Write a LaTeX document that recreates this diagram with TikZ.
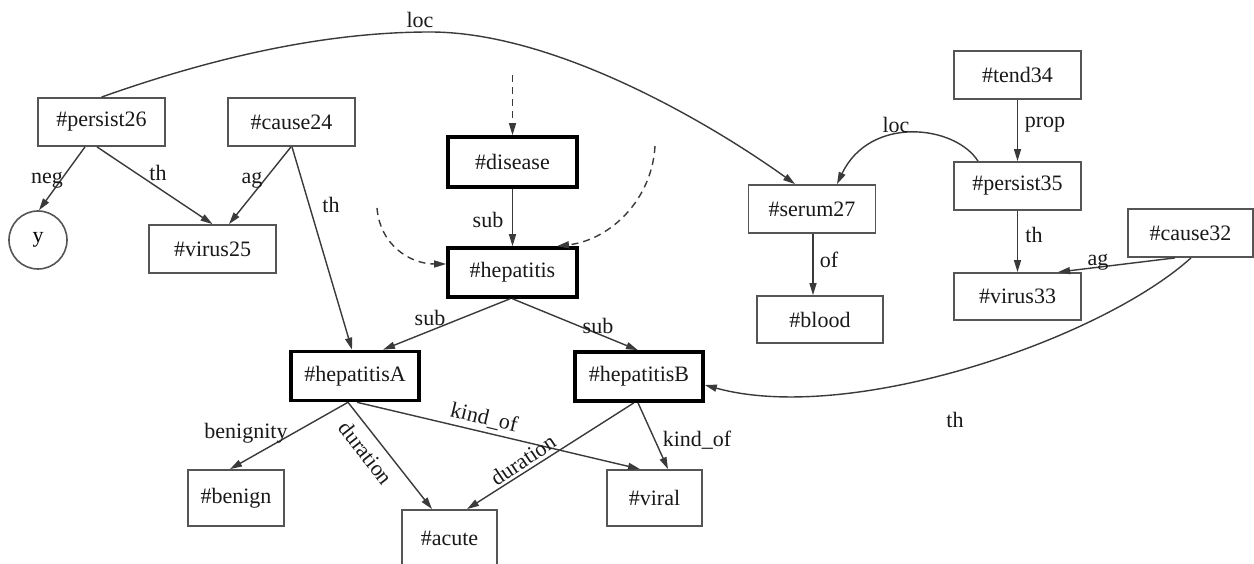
\documentclass[tikz,border=0pt]{standalone}
\usepackage{fontspec}
\setmainfont{Liberation Serif}
\usetikzlibrary{arrows.meta}
\definecolor{edgecol}{HTML}{3A3A3A}
\definecolor{boxcol}{HTML}{555555}
\begin{document}
\begin{tikzpicture}[x=1pt,y=-1pt,
  font=\fontsize{22}{26}\selectfont,
  box/.style={draw=boxcol,line width=1.8pt,rectangle,inner sep=0pt,minimum width=127pt,minimum height=48pt,text=black!90},
  thickbox/.style={box,draw=black,line width=3.6pt},
  smallbox/.style={box,minimum width=96pt,minimum height=56pt},
  circ/.style={draw=boxcol,line width=1.6pt,circle,inner sep=0pt,minimum size=58pt},
  lbl/.style={inner sep=0pt,text=black!90},
  edge/.style={draw=edgecol,line width=1.4pt,-{Triangle[length=12pt,width=7pt]}},
  dashedge/.style={edge,dash pattern=on 7pt off 5pt}]
\useasboundingbox[fill=white] (0,0) rectangle (1254,564);

% nodes
\node[box] (p26) at (101.5,122) {\#persist26};
\node[box] (c24) at (291.5,122) {\#cause24};
\node[circ] (yc) at (38,240) {y};
\node[box] (v25) at (212.5,249) {\#virus25};
\node[thickbox,minimum width=129pt,minimum height=50pt] (dis) at (512.5,162) {\#disease};
\node[thickbox,minimum width=129pt,minimum height=49pt] (hep) at (512.5,272.5) {\#hepatitis};
\node[thickbox,minimum width=128pt,minimum height=49pt] (hA) at (355,376) {\#hepatitisA};
\node[thickbox,minimum width=128pt,minimum height=49pt] (hB) at (639,376.5) {\#hepatitisB};
\node[smallbox] (ben) at (236,498) {\#benign};
\node[smallbox,minimum width=95pt] (acu) at (449.5,538) {\#acute};
\node[smallbox,minimum width=95pt] (vir) at (654.5,498) {\#viral};
\node[box] (s27) at (812,209) {\#serum27};
\node[box,minimum width=126pt,minimum height=47pt] (bl) at (820,319.5) {\#blood};
\node[box] (t34) at (1017.5,75) {\#tend34};
\node[box] (p35) at (1017.5,186) {\#persist35};
\node[box,minimum height=47pt] (v33) at (1017.5,296.5) {\#virus33};
\node[box,minimum width=125pt] (c32) at (1190.5,233) {\#cause32};

% free ends of dashed connectors
\coordinate (dtop) at (512.5,75);
\coordinate (dleft) at (377,208);
\coordinate (dright) at (655,146);
\coordinate (locpeak) at (430,32);

% connectors
\draw[edge] ([xshift=-16.5pt]p26.south) -- ([xshift=1pt]yc.north);
\draw[edge] ([xshift=-4.5pt]p26.south) -- (v25.north);
\draw[edge] ([xshift=-0.5pt]c24.south) -- ([xshift=16.5pt]v25.north);
\draw[edge] ([xshift=0.5pt]c24.south) -- ([xshift=-3pt]hA.north);
\draw[dashedge] (dtop) -- (dis.north);
\draw[edge] (dis.south) -- (hep.north);
\draw[dashedge] (dleft) .. controls (380,245) and (410,264) .. ([yshift=8.5pt]hep.west);
\draw[dashedge] (dright) .. controls (652,200) and (610,240) .. ([xshift=44.5pt]hep.north);
\draw[edge] ([xshift=-2.5pt]hep.south) -- ([xshift=28pt]hA.north);
\draw[edge] (hep.south) -- ([xshift=-1pt]hB.north);
\draw[edge] ([xshift=-7pt]hA.south) -- ([xshift=-6pt]ben.north);
\draw[edge] ([xshift=-7pt]hA.south) -- ([xshift=-17.5pt]acu.north);
\draw[edge] ([xshift=2pt]hA.south) -- ([xshift=-14.5pt]vir.north);
\draw[edge] ([xshift=-5pt]hB.south) -- ([xshift=17.5pt]acu.north);
\draw[edge] ([xshift=-1pt]hB.south) -- ([xshift=13.5pt]vir.north);
\draw[edge] ([xshift=0.5pt]c32.south) .. controls (1100,340) and (850,425) .. ([yshift=-8.5pt]hB.east);
\draw[edge] ([xshift=1pt]s27.south) -- ([xshift=-7pt]bl.north);
\draw[edge] ([xshift=-39.5pt]p35.north) .. controls (955,125) and (870,115) .. ([xshift=25pt]s27.north);
\draw[edge] (t34.south) -- (p35.north);
\draw[edge] (p35.south) -- (v33.north);
\draw[edge] ([xshift=-15.5pt]c32.south) -- ([xshift=40.5pt]v33.north);
\draw[edge] (p26.north) .. controls (220,55) and (330,32) .. (locpeak) .. controls (560,32) and (720,130) .. ([xshift=-17pt]s27.north);

% labels
\node[lbl] (lneg) at (47,180) {neg};
\node[lbl] (lth1) at (158,173) {th};
\node[lbl] (lag1) at (252,180) {ag};
\node[lbl] (lth2) at (331,205) {th};
\node[lbl] (lsub1) at (488,220) {sub};
\node[lbl] (lsub2) at (430,318) {sub};
\node[lbl] (lsub3) at (598,326) {sub};
\node[lbl] (lben) at (246,433) {benignity};
\node[lbl,rotate=-52] (ldur1) at (366,453) {duration};
\node[lbl,rotate=-13.5] (lkind1) at (484,418) {kind\_of};
\node[lbl,rotate=34] (ldur2) at (523,460) {duration};
\node[lbl] (lkind2) at (697,440) {kind\_of};
\node[lbl] (lth3) at (955,420) {th};
\node[lbl] (lof) at (829,260) {of};
\node[lbl] (lloc2) at (896,125) {loc};
\node[lbl] (lprop) at (1045,125) {prop};
\node[lbl] (lth4) at (1034,235) {th};
\node[lbl] (lag2) at (1098,262) {ag};
\node[lbl] (lloc1) at (420,20) {loc};
\end{tikzpicture}
\end{document}
